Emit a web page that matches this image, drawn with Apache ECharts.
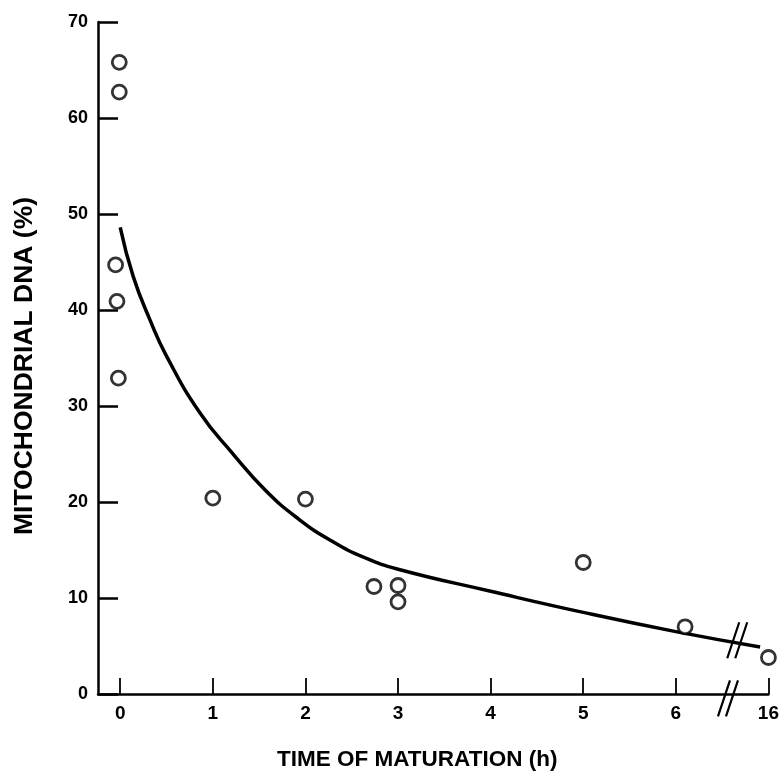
<!DOCTYPE html>
<html>
<head>
<meta charset="utf-8">
<title>Mitochondrial DNA vs time of maturation</title>
<script src="https://cdn.jsdelivr.net/npm/echarts@6/dist/echarts.min.js"></script>
<style>
  html, body { margin: 0; padding: 0; background: #fff; }
  #chart { width: 782px; height: 776px; }
</style>
</head>
<body>
<div id="chart"></div>
<script>
// x is in axis units: 0..6 are hours, 7 is the slot after the break (16 h)
const xTicks = [0, 1, 2, 3, 4, 5, 6, 7];
const xTickLabels = ["0", "1", "2", "3", "4", "5", "6", "16"];

// measured points (open circles)
const pointX = [-0.01, -0.01, -0.05, -0.035, -0.02, 1.0, 2.0, 2.74, 3.0, 3.0, 5.0, 6.1, 7.0];
const pointY = [65.8, 62.7, 44.7, 40.9, 32.9, 20.4, 20.3, 11.2, 11.3, 9.6, 13.7, 7.0, 3.8];

// fitted curve
const curveX = [0.0, 0.14, 0.32, 0.5, 0.86, 1.21, 1.57, 1.93, 2.29, 2.64, 3.0, 4.0, 5.0, 6.0, 6.91];
const curveY = [48.6, 43.5, 39.0, 35.2, 29.3, 25.1, 21.2, 18.2, 15.9, 14.2, 13.0, 10.7, 8.5, 6.5, 4.9];

// where the "//" break marks sit (axis units)
const curveBreak = [6.62, 5.6];
const axisBreak = [6.52, -0.45];

const font = "'Liberation Sans', Arial, sans-serif";
const chart = echarts.init(document.getElementById("chart"));

let option = {
  animation: false,
  backgroundColor: "#fff",
  grid: { left: 98, right: 9, top: 22, bottom: 82 },
  xAxis: {
    type: "value",
    min: -0.24,
    max: 7,
    name: "TIME OF MATURATION (h)",
    nameLocation: "middle",
    nameGap: 54,
    nameTextStyle: {
      color: "#000",
      fontFamily: font,
      fontSize: 22.5,
      fontWeight: "bold",
      padding: [0, 32, 0, 0],
    },
    axisLine: { lineStyle: { color: "#000", width: 2.5 } },
    axisTick: {
      show: true,
      inside: true,
      length: 16,
      customValues: xTicks,
      lineStyle: { color: "#000", width: 1.8 },
    },
    axisLabel: {
      customValues: xTicks,
      color: "#000",
      fontFamily: font,
      fontSize: 19,
      fontWeight: "bold",
      margin: 10,
      formatter: (v) => xTickLabels[xTicks.indexOf(v)],
    },
    splitLine: { show: false },
  },
  yAxis: {
    type: "value",
    min: 0,
    max: 70,
    interval: 10,
    name: "MITOCHONDRIAL DNA (%)",
    nameLocation: "middle",
    nameGap: 60,
    nameTextStyle: {
      color: "#000",
      fontFamily: font,
      fontSize: 26.5,
      fontWeight: "bold",
      padding: [0, 16, 0, 0],
    },
    axisLine: { show: true, onZero: false, lineStyle: { color: "#000", width: 2.5 } },
    axisTick: {
      show: true,
      inside: true,
      length: 20,
      lineStyle: { color: "#000", width: 2.5 },
    },
    axisLabel: {
      color: "#000",
      fontFamily: font,
      fontSize: 18,
      fontWeight: "bold",
      margin: 10,
    },
    splitLine: { show: false },
  },
  series: [
    {
      type: "line",
      data: curveX.map((x, i) => [x, curveY[i]]),
      smooth: 0.5,
      showSymbol: false,
      lineStyle: { color: "#000", width: 3.5 },
      z: 2,
    },
    {
      type: "scatter",
      data: pointX.map((x, i) => [x, pointY[i]]),
      symbol: "circle",
      symbolSize: 14,
      clip: false,
      itemStyle: { color: "#fff", borderColor: "#000", borderWidth: 2.8 },
      z: 3,
    },
  ],
};
chart.setOption(option);

// "//" break marks, placed through the grid's own coordinate system
function breakMarks(at) {
  const p = chart.convertToPixel({ gridIndex: 0 }, at);
  return [0, 8].map((dx) => ({
    type: "line",
    shape: { x1: p[0] + dx - 6, y1: p[1] + 18, x2: p[0] + dx + 6, y2: p[1] - 18 },
    style: { stroke: "#000", lineWidth: 2.2 },
    z: 10,
  }));
}
chart.setOption({ graphic: breakMarks(curveBreak).concat(breakMarks(axisBreak)) });
</script>
</body>
</html>
